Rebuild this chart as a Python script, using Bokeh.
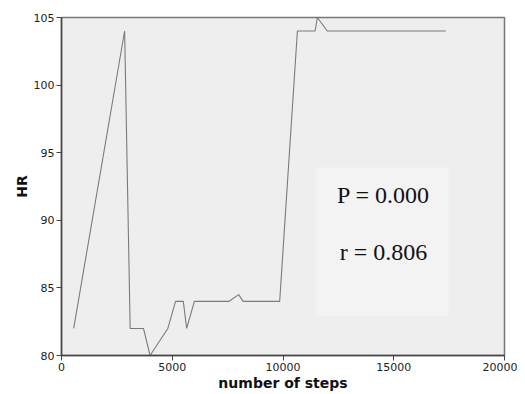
from bokeh.plotting import figure
from bokeh.models import Range1d, FixedTicker, Label, BoxAnnotation
from bokeh.embed import file_html
from bokeh.resources import INLINE

steps = [550, 2850, 3100, 3700, 4000, 4800, 5150, 5500, 5650, 6000, 7550,
         8000, 8200, 9850, 10650, 11450, 11550, 12000, 17350]
hr = [82, 104, 82, 82, 80, 82, 84, 84, 82, 84, 84,
      84.5, 84, 84, 104, 104, 105, 104, 104]
x_ticks = [0, 5000, 10000, 15000, 20000]
y_ticks = [80, 85, 90, 95, 100, 105]
stats = ["P = 0.000", "r = 0.806"]

p = figure(width=517, height=393, output_backend="svg", toolbar_location=None,
           x_range=Range1d(0, 20000), y_range=Range1d(80, 105),
           min_border_left=61, min_border_right=13, min_border_top=17,
           min_border_bottom=10)
p.background_fill_color = "#eeeeee"
p.border_fill_color = "white"
p.outline_line_color = "#777777"
p.outline_line_width = 1.5
p.grid.visible = False

p.add_layout(BoxAnnotation(left=11470, right=17470, bottom=82.95, top=93.9,
                           fill_color="#f3f3f3", fill_alpha=1, line_alpha=0,
                           level="underlay"))

p.line(steps, hr, line_color="#7a7a7a", line_width=1.1)

for ax in (p.xaxis[0], p.yaxis[0]):
    ax.axis_line_color = "#444444"
    ax.axis_line_width = 1.5
    ax.major_tick_line_color = "#444444"
    ax.major_tick_in = 0
    ax.major_tick_out = 5
    ax.minor_tick_line_color = None
    ax.major_label_text_font = "DejaVu Sans"
    ax.major_label_text_font_size = "11px"
    ax.major_label_text_color = "#222222"
    ax.axis_label_text_font = "DejaVu Sans"
    ax.axis_label_text_font_style = "bold"
    ax.axis_label_text_font_size = "14px"
    ax.axis_label_text_color = "#111111"
    ax.major_label_standoff = 2
    ax.axis_label_standoff = 1

p.xaxis.ticker = FixedTicker(ticks=x_ticks)
p.yaxis.ticker = FixedTicker(ticks=y_ticks)
p.xaxis.axis_label = "number of steps"
p.yaxis.axis_label = "HR"

for txt, yv in zip(stats, [91.9, 87.65]):
    p.add_layout(Label(x=14540, y=yv, text=txt, text_font="Liberation Serif",
                       text_font_size="24px", text_align="center",
                       text_baseline="middle", text_color="#111111"))

open("out.html", "w").write(file_html(p, INLINE))
